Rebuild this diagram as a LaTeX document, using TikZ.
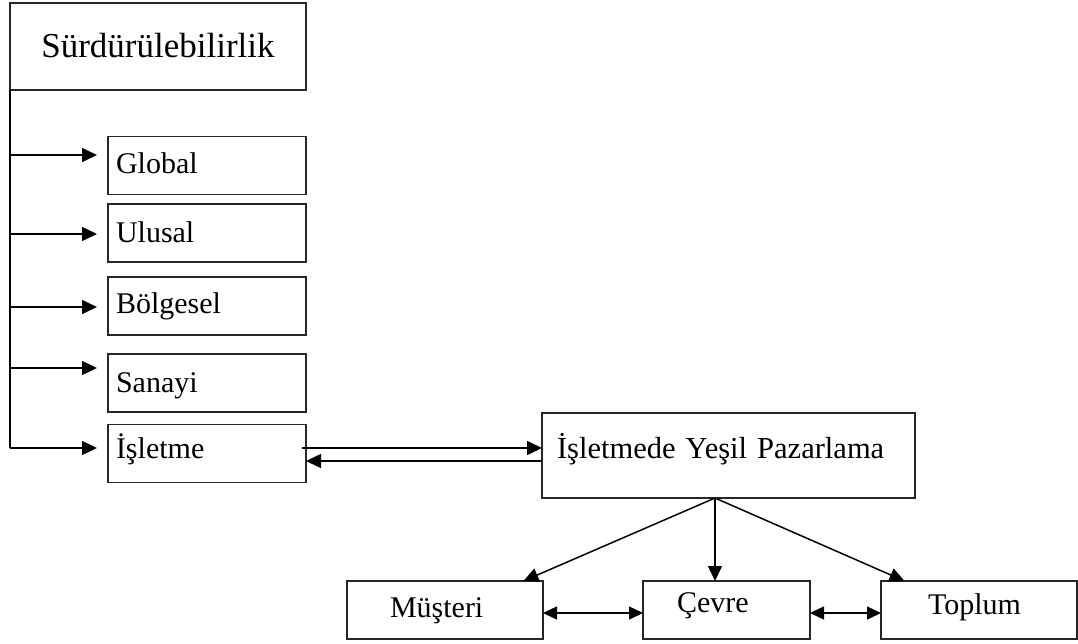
\documentclass[tikz,border=0pt]{standalone}
\usepackage{fontspec}
\setmainfont{Liberation Serif}
\usetikzlibrary{arrows.meta,calc}
\begin{document}
\begin{tikzpicture}[x=1pt,y=-1pt,
  box/.style={draw=black!85, line width=1.6pt, rectangle, inner sep=0pt, outer sep=0pt},
  lbox/.style={box, minimum height=58pt, text width=182pt, inner xsep=8pt, align=left, font=\fontsize{30}{36}\selectfont},
  bbox/.style={box, minimum height=58pt, align=left, font=\fontsize{30}{36}\selectfont},
  conn/.style={draw=black, line width=1.5pt},
  arr/.style={conn, -{Triangle[length=15pt,width=14pt]}},
  arrtwo/.style={conn, {Triangle[length=14pt,width=13pt]}-{Triangle[length=14pt,width=13pt]}},
]
\useasboundingbox[fill=white] (0,0) rectangle (1078,643);

\node[box, minimum width=296pt, minimum height=87pt, font=\fontsize{35}{42}\selectfont, text height=24.5pt, text depth=3.5pt] (title) at (158,46.5) {Sürdürülebilirlik};

\node[lbox, text height=22pt, text depth=6pt] (glob) at (207,165.5) {Global};
\node[lbox, text height=23pt, text depth=5pt] (ulu) at (207,233) {Ulusal};
\node[lbox, text height=21pt, text depth=7pt] (bol) at (207,306) {Bölgesel};
\node[lbox, text height=23pt, text depth=5pt] (san) at (207,383) {Sanayi};
\node[lbox, text height=18.5pt, text depth=9.5pt] (ise) at (207,453.5) {İşletme};

\node[box, minimum height=85pt, text width=343pt, inner xsep=15pt, align=left, font=\fontsize{30.5}{36}\selectfont, text height=16.5pt, text depth=11.5pt] (main) at (728.5,455.5) {İşletmede Yeşil Pazarlama};

\node[bbox, text width=110pt, inner xsep=43pt, text height=21.5pt, text depth=6.5pt] (mus) at (445,610) {Müşteri};
\node[bbox, text width=99pt, inner xsep=34pt, text height=16.5pt, text depth=11.5pt] (cev) at (726.5,610) {Çevre};
\node[bbox, text width=102pt, inner xsep=47pt, text height=18.5pt, text depth=9.5pt] (topl) at (979,610) {Toplum};

% left trunk
\coordinate (t1) at (10,155);
\coordinate (t2) at (10,234);
\coordinate (t3) at (10,307);
\coordinate (t4) at (10,368);
\coordinate (t5) at (10,448);
\draw[conn] (title.south west) -- (t5);
\foreach \c/\n in {t1/glob,t2/ulu,t3/bol,t4/san,t5/ise}
  \draw[arr, shorten >=11pt] (\c) -- (\c -| \n.west);

% İşletme <-> main
\coordinate (f1) at (302,448);
\coordinate (f2) at (542,461);
\draw[arr] (f1) -- (f1 -| main.west);
\draw[arr] (f2) -- (f2 -| ise.east);

% main -> bottom
\coordinate (hub) at (715,498);
\draw[arr] (hub) -- ($(mus.north west)!0.9!(mus.north east)$);
\draw[arr] (hub) -- (hub |- cev.north);
\draw[arr] (hub) -- ($(topl.north west)!0.12!(topl.north east)$);

% bottom double arrows
\coordinate (d) at (0,613);
\draw[arrtwo] (mus.east |- d) -- (cev.west |- d);
\draw[arrtwo] (cev.east |- d) -- (topl.west |- d);
\end{tikzpicture}
\end{document}
